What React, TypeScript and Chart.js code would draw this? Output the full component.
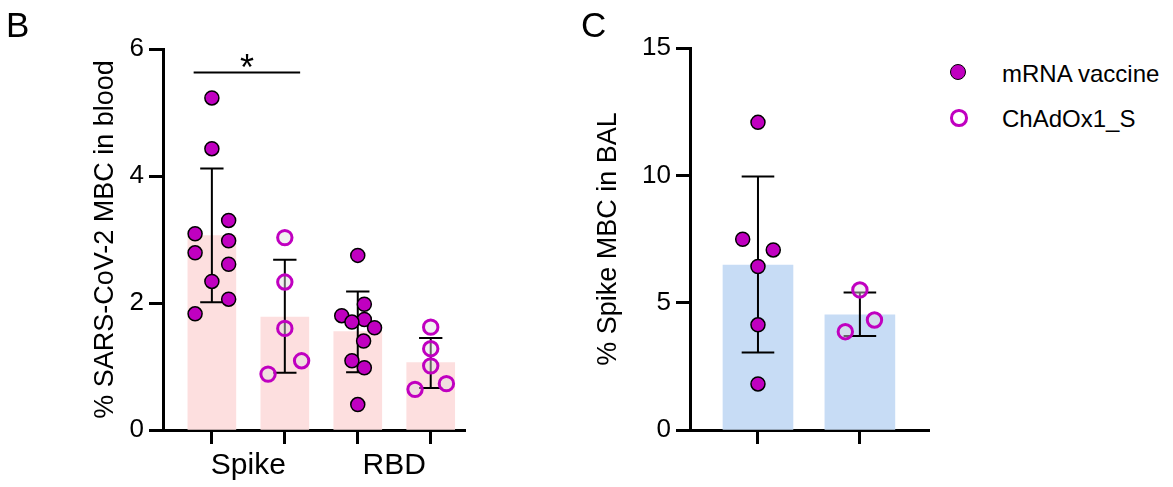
import React, { useEffect, useRef } from 'react';
import { Chart, registerables } from 'chart.js';

Chart.register(...registerables);

const FONT = "'Liberation Sans', Arial, Helvetica, sans-serif";
const MAGENTA = '#C000C0';
const PINK = '#FDDFDF';
const BLUE = '#C7DCF5';
const OPEN_FILL = 'rgba(225,225,225,0.45)';

// ---------- Panel B: blood ----------
const bloodCategories = ['Spike', 'RBD'];
const bloodGroupPos = [1, 2, 3, 4]; // Spike mRNA, Spike ChAd, RBD mRNA, RBD ChAd
const bloodMeans = [3.06, 1.78, 1.55, 1.06];
const bloodSdHigh = [4.12, 2.68, 2.18, 1.45];
const bloodSdLow = [2.01, 0.9, 0.91, 0.66];

const bloodSpikeMrna = [5.23, 4.43, 3.3, 3.09, 2.98, 2.79, 2.61, 2.34, 2.06, 1.83];
const bloodSpikeMrnaJitter = [0, 0, 0.23, -0.23, 0.23, -0.23, 0.23, 0, 0.23, -0.23];
const bloodRbdMrna = [2.75, 1.98, 1.8, 1.74, 1.7, 1.61, 1.4, 1.09, 0.98, 0.4];
const bloodRbdMrnaJitter = [0, 0.09, -0.22, 0.09, -0.08, 0.23, 0.08, -0.08, 0.09, 0];

const bloodSpikeChad = [3.03, 2.33, 1.6, 1.09, 0.88];
const bloodSpikeChadJitter = [0, 0, 0, 0.23, -0.23];
const bloodRbdChad = [1.62, 1.28, 1.01, 0.73, 0.64];
const bloodRbdChadJitter = [0, 0, 0, 0.215, -0.215];

const bloodYTicks = [0, 2, 4, 6];
const bloodSig = { from: 0.75, to: 2.21, y: 5.63, label: '*' };

// ---------- Panel C: BAL ----------
const balGroupPos = [1, 2]; // mRNA, ChAd
const balMeans = [6.48, 4.52];
const balSdHigh = [9.95, 5.4];
const balSdLow = [3.04, 3.69];
const balMrna = [12.08, 7.49, 7.07, 6.42, 4.13, 1.81];
const balMrnaJitter = [0, -0.15, 0.15, 0, 0, 0];
const balChad = [5.5, 4.32, 3.86];
const balChadJitter = [0, 0.143, -0.143];
const balYTicks = [0, 5, 10, 15];

const legendLabels = ['mRNA vaccine', 'ChAdOx1_S'];

const CAP_HALF = 0.16;

function points(center: number, values: number[], jitter: number[]) {
  return values.map((v, i) => ({ x: center + jitter[i], y: v }));
}

function errorBarPlugin(pos: number[], high: number[], low: number[]) {
  return {
    id: 'errorBars',
    afterDatasetDraw(chart: any, args: any) {
      if (args.index !== 0) return;
      const { ctx } = chart;
      const x = chart.scales.x;
      const y = chart.scales.y;
      ctx.save();
      ctx.strokeStyle = '#000';
      ctx.lineWidth = 2;
      pos.forEach((p, i) => {
        const cx = x.getPixelForValue(p);
        const half = x.getPixelForValue(p + CAP_HALF) - cx;
        const yh = y.getPixelForValue(high[i]);
        const yl = y.getPixelForValue(low[i]);
        ctx.beginPath();
        ctx.moveTo(cx, yh);
        ctx.lineTo(cx, yl);
        ctx.moveTo(cx - half, yh);
        ctx.lineTo(cx + half, yh);
        ctx.moveTo(cx - half, yl);
        ctx.lineTo(cx + half, yl);
        ctx.stroke();
      });
      ctx.restore();
    },
  };
}

const sigPlugin = {
  id: 'sig',
  afterDatasetsDraw(chart: any) {
    const { ctx } = chart;
    const x = chart.scales.x;
    const y = chart.scales.y;
    const x1 = x.getPixelForValue(bloodSig.from);
    const x2 = x.getPixelForValue(bloodSig.to);
    const yy = y.getPixelForValue(bloodSig.y);
    ctx.save();
    ctx.strokeStyle = '#000';
    ctx.lineWidth = 2;
    ctx.beginPath();
    ctx.moveTo(x1, yy);
    ctx.lineTo(x2, yy);
    ctx.stroke();
    ctx.fillStyle = '#000';
    ctx.font = `36px ${FONT}`;
    ctx.textAlign = 'center';
    ctx.textBaseline = 'alphabetic';
    ctx.fillText(bloodSig.label, (x1 + x2) / 2, yy + 8);
    ctx.restore();
  },
};

function yAxis(max: number, step: number, title: string, width: number, titlePad: number) {
  return {
    type: 'linear',
    min: 0,
    max,
    ticks: { stepSize: step, color: '#000', font: { family: FONT, size: 26 }, padding: 5 },
    grid: { drawOnChartArea: false, drawTicks: true, tickLength: 14, tickWidth: 3, tickColor: '#000' },
    border: { display: true, width: 3, color: '#000' },
    title: { display: true, text: title, color: '#000', font: { family: FONT, size: 27 }, padding: { top: titlePad, bottom: 0 } },
    afterFit(scale: any) {
      scale.width = width;
    },
  };
}

function xAxis(min: number, max: number, tickVals: number[], labelFor: (v: number) => string) {
  return {
    type: 'linear',
    min,
    max,
    offset: false,
    afterBuildTicks(scale: any) {
      scale.ticks = tickVals.map((v) => ({ value: v }));
    },
    ticks: {
      autoSkip: false,
      maxRotation: 0,
      color: '#000',
      font: { family: FONT, size: 30 },
      padding: 4,
      callback: (v: any) => labelFor(Number(v)),
    },
    grid: {
      offset: false,
      drawOnChartArea: false,
      drawTicks: true,
      tickLength: 14,
      tickWidth: 3,
      tickColor: (c: any) => (c.tick && Number.isInteger(c.tick.value) ? '#000' : 'rgba(0,0,0,0)'),
    },
    border: { display: true, width: 3, color: '#000' },
    afterFit(scale: any) {
      scale.height = 57;
    },
  };
}

const filledStyle = {
  pointRadius: 7,
  pointBorderWidth: 1.5,
  pointBackgroundColor: MAGENTA,
  pointBorderColor: '#000',
  backgroundColor: MAGENTA,
  borderColor: '#000',
};
const openStyle = {
  pointRadius: 7.2,
  pointBorderWidth: 3,
  pointBackgroundColor: OPEN_FILL,
  pointBorderColor: MAGENTA,
  backgroundColor: OPEN_FILL,
  borderColor: MAGENTA,
};

export default function App() {
  const bRef = useRef<HTMLCanvasElement | null>(null);
  const cRef = useRef<HTMLCanvasElement | null>(null);

  useEffect(() => {
    const charts: Chart[] = [];
    if (bRef.current) {
      charts.push(
        new Chart(bRef.current, {
          type: 'bar',
          data: {
            datasets: [
              {
                type: 'bar',
                label: 'mean',
                data: bloodGroupPos.map((p, i) => ({ x: p, y: bloodMeans[i] })),
                backgroundColor: PINK,
                borderWidth: 0,
                barThickness: 48,
                order: 2,
              } as any,
              {
                type: 'scatter',
                label: legendLabels[0],
                data: [
                  ...points(bloodGroupPos[0], bloodSpikeMrna, bloodSpikeMrnaJitter),
                  ...points(bloodGroupPos[2], bloodRbdMrna, bloodRbdMrnaJitter),
                ],
                ...filledStyle,
                order: 1,
              } as any,
              {
                type: 'scatter',
                label: legendLabels[1],
                data: [
                  ...points(bloodGroupPos[1], bloodSpikeChad, bloodSpikeChadJitter),
                  ...points(bloodGroupPos[3], bloodRbdChad, bloodRbdChadJitter),
                ],
                ...openStyle,
                order: 1,
              } as any,
            ],
          },
          options: {
            animation: false,
            responsive: false,
            devicePixelRatio: 1,
            events: [],
            layout: { padding: { left: 80, top: 49, right: 95, bottom: 0 } },
            plugins: { legend: { display: false }, tooltip: { enabled: false } },
            scales: {
              x: xAxis(0.33, 4.47, [1, 1.5, 2, 3, 3.5, 4], (v) =>
                v === 1.5 ? bloodCategories[0] : v === 3.5 ? bloodCategories[1] : ''
              ),
              y: yAxis(6, 2, '% SARS-CoV-2 MBC in blood', 83, 9),
            },
          } as any,
          plugins: [errorBarPlugin(bloodGroupPos, bloodSdHigh, bloodSdLow), sigPlugin],
        })
      );
    }
    if (cRef.current) {
      charts.push(
        new Chart(cRef.current, {
          type: 'bar',
          data: {
            datasets: [
              {
                type: 'bar',
                label: 'mean',
                data: balGroupPos.map((p, i) => ({ x: p, y: balMeans[i] })),
                backgroundColor: BLUE,
                borderWidth: 0,
                barThickness: 70,
                order: 2,
              } as any,
              {
                type: 'scatter',
                label: legendLabels[0],
                data: points(balGroupPos[0], balMrna, balMrnaJitter),
                ...filledStyle,
                order: 1,
              } as any,
              {
                type: 'scatter',
                label: legendLabels[1],
                data: points(balGroupPos[1], balChad, balChadJitter),
                ...openStyle,
                order: 1,
              } as any,
            ],
          },
          options: {
            animation: false,
            responsive: false,
            devicePixelRatio: 1,
            events: [],
            layout: { padding: { left: 20, top: 48, right: 3, bottom: 0 } },
            plugins: { legend: { display: false }, tooltip: { enabled: false } },
            scales: {
              x: xAxis(0.333, 2.686, [1, 2], () => ''),
              y: yAxis(15, 5, '% Spike MBC in BAL', 110, 12),
            },
          } as any,
          plugins: [errorBarPlugin(balGroupPos, balSdHigh, balSdLow)],
        })
      );
    }
    return () => charts.forEach((c) => c.destroy());
  }, []);

  const letter: React.CSSProperties = {
    position: 'absolute',
    top: 7,
    fontFamily: FONT,
    fontSize: 35,
    lineHeight: '35px',
    color: '#000',
  };
  const legText: React.CSSProperties = {
    position: 'absolute',
    left: 1002,
    fontFamily: FONT,
    fontSize: 24,
    lineHeight: '24px',
    color: '#000',
    whiteSpace: 'nowrap',
  };

  return (
    <div style={{ position: 'absolute', left: 0, top: 0, width: 1173, height: 487, background: '#fff', overflow: 'hidden' }}>
      <canvas ref={bRef} width={560} height={487} style={{ position: 'absolute', left: 0, top: 0, width: 560, height: 487 }} />
      <canvas ref={cRef} width={380} height={487} style={{ position: 'absolute', left: 560, top: 0, width: 380, height: 487 }} />
      <div style={{ ...letter, left: 6 }}>B</div>
      <div style={{ ...letter, left: 581 }}>C</div>
      <div
        style={{
          position: 'absolute',
          left: 958 - 8.5,
          top: 72 - 8.5,
          width: 14,
          height: 14,
          borderRadius: '50%',
          background: MAGENTA,
          border: '1.5px solid #000',
        }}
      />
      <div
        style={{
          position: 'absolute',
          left: 959 - 8.7,
          top: 118 - 8.7,
          width: 11.4,
          height: 11.4,
          borderRadius: '50%',
          background: 'transparent',
          border: `3px solid ${MAGENTA}`,
        }}
      />
      <div style={{ ...legText, top: 62 }}>{legendLabels[0]}</div>
      <div style={{ ...legText, top: 107 }}>{legendLabels[1]}</div>
    </div>
  );
}
